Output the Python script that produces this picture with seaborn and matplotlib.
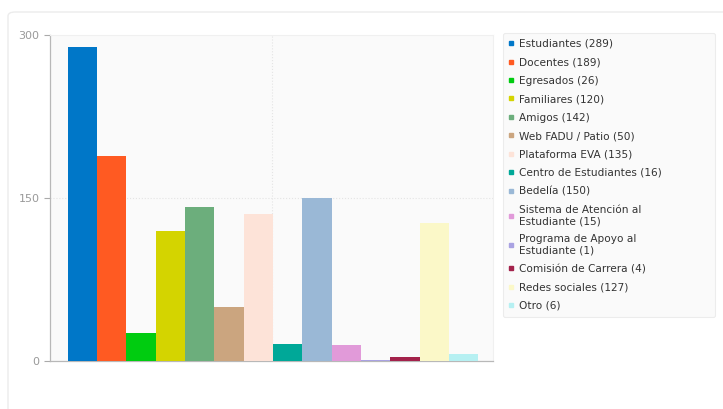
import matplotlib
matplotlib.use("Agg")
import matplotlib.pyplot as plt
from matplotlib.lines import Line2D
from matplotlib.patches import FancyBboxPatch
import seaborn as sns

categories = [
    "Estudiantes", "Docentes", "Egresados", "Familiares", "Amigos",
    "Web FADU / Patio", "Plataforma EVA", "Centro de Estudiantes", "Bedelía",
    "Sistema de Atención al\nEstudiante", "Programa de Apoyo al\nEstudiante",
    "Comisión de Carrera", "Redes sociales", "Otro",
]
values = [289, 189, 26, 120, 142, 50, 135, 16, 150, 15, 1, 4, 127, 6]
colors = [
    "#0077c8", "#ff5a22", "#00cc10", "#d4d400", "#6cae7c", "#cba57f",
    "#fde3d8", "#00a898", "#9ab8d6", "#e19ad9", "#a9a2e2", "#a3224b",
    "#fbf8c8", "#b6f0f2",
]
yticks = [0, 150, 300]

sns.set_style("white")
plt.rcParams["font.family"] = ["DejaVu Sans"]

W, H = 723, 409
fig = plt.figure(figsize=(W / 100, H / 100), dpi=100)

# faint card border
fig.patches.append(FancyBboxPatch((8 / W, -0.05), 1.2, 1 - 12 / H + 0.05,
                                  boxstyle="round,pad=0,rounding_size=0.01",
                                  transform=fig.transFigure, facecolor="white",
                                  edgecolor="#ececec", linewidth=1, zorder=-5))

ax = fig.add_axes([50 / W, 1 - 361 / H, (493 - 50) / W, (361 - 35) / H])
ax.set_facecolor("#fafafa")

sns.barplot(x=list(range(len(values))), y=values, hue=list(range(len(values))),
            palette=colors, width=1.0, dodge=False, legend=False,
            saturation=1, linewidth=0, ax=ax, zorder=3)

ax.set_xlim(-1.1, 14.0)
ax.set_ylim(0, 300)
ax.set_yticks(yticks)
ax.set_yticklabels([str(t) for t in yticks])
ax.set_xticks([])
ax.set_xlabel("")
ax.set_ylabel("")
ax.tick_params(axis="y", colors="#aaaaaa", labelsize=8, length=4, width=0.8,
               direction="out", left=True, labelcolor="#999999")

# light dotted grid
ax.axhline(150, color="#e4e4e4", linewidth=0.8, linestyle=":", zorder=1)
ax.axvline(sum(ax.get_xlim()) / 2, color="#e4e4e4", linewidth=0.8,
           linestyle=":", zorder=1)

for side in ["top", "right"]:
    ax.spines[side].set_color("#f0f0f0")
    ax.spines[side].set_linewidth(0.8)
for side in ["left", "bottom"]:
    ax.spines[side].set_color("#b8b8b8")
    ax.spines[side].set_linewidth(0.9)

handles = [Line2D([0], [0], marker="s", linestyle="", markersize=3.2,
                  markerfacecolor=c, markeredgecolor=c) for c in colors]
labels = [f"{cat} ({v})" for cat, v in zip(categories, values)]
leg = fig.legend(handles, labels, loc="upper left",
                 bbox_to_anchor=(503 / W, 1 - 318 / H, 212 / W, 285 / H),
                 mode="expand",
                 fontsize=7.6, frameon=True, fancybox=True,
                 handlelength=0.5, handletextpad=0.5, labelspacing=0.8,
                 borderpad=0.55, borderaxespad=0)
frame = leg.get_frame()
frame.set_facecolor("#f9f9f9")
frame.set_edgecolor("#e8e8e8")
frame.set_linewidth(0.8)
for t in leg.get_texts():
    t.set_color("#333333")
    t.set_linespacing(1.15)

fig.savefig("out.png", dpi=100)
